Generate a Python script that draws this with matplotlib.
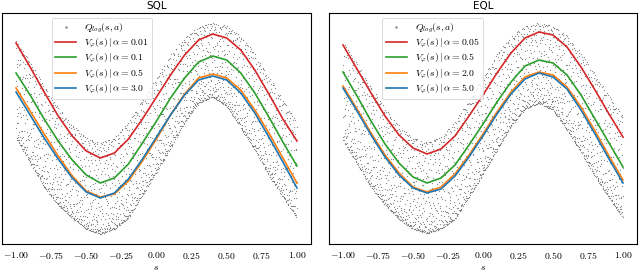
import matplotlib
matplotlib.use('Agg')
import matplotlib.pyplot as plt
from matplotlib.ticker import FuncFormatter
import numpy as np

plt.rcParams['mathtext.fontset'] = 'cm'

# state grid the value curves were read at
s = [-1.0, -0.9, -0.8, -0.7, -0.6, -0.5, -0.4, -0.3, -0.2, -0.1, 0.0,
     0.1, 0.2, 0.3, 0.4, 0.5, 0.6, 0.7, 0.8, 0.9, 1.0]

# SQL panel
sql_alphas = ['0.01', '0.1', '0.5', '3.0']
sql_red = [201, 177, 152, 128, 108, 93, 86, 91, 105, 125, 147, 169, 189, 204, 210, 206, 194, 174, 150, 125, 103]
sql_green = [171, 149, 125, 103, 84, 69, 61, 66, 80, 101, 123, 146, 166, 182, 188, 184, 171, 151, 127, 102, 78]
sql_orange = [156, 133, 110, 88, 68, 53, 47, 50, 63, 83, 105, 129, 150, 166, 170, 166, 154, 134, 111, 86, 61]
sql_blue = [152, 129, 106, 85, 66, 52, 46, 51, 65, 85, 107, 129, 149, 164, 168, 164, 151, 131, 107, 82, 56]
sql_q_top = [204, 182, 158, 136, 119, 106, 101, 106, 122, 144, 166, 189, 206, 217, 221, 218, 208, 190, 167, 144, 122]
sql_q_bot = [106, 81, 57, 39, 26, 15, 10, 15, 26, 49, 72, 96, 122, 141, 147, 138, 116, 94, 69, 47, 26]

# EQL panel
eql_alphas = ['0.05', '0.5', '2.0', '5.0']
eql_red = [199, 175, 151, 128, 109, 96, 90, 95, 108, 128, 149, 171, 191, 206, 212, 209, 197, 177, 154, 130, 107]
eql_green = [172, 148, 123, 100, 81, 67, 61, 66, 79, 99, 120, 142, 162, 178, 184, 181, 169, 149, 125, 101, 77]
eql_orange = [158, 135, 111, 89, 71, 57, 52, 57, 70, 89, 110, 132, 152, 167, 172, 169, 157, 137, 113, 88, 64]
eql_blue = [156, 133, 109, 87, 69, 56, 51, 55, 68, 87, 108, 130, 150, 165, 171, 167, 155, 134, 110, 85, 61]
eql_q_top = [202, 180, 157, 135, 118, 106, 102, 107, 122, 144, 167, 190, 207, 218, 221, 218, 208, 191, 170, 148, 127]
eql_q_bot = [104, 80, 57, 39, 25, 15, 11, 15, 25, 47, 70, 94, 118, 135, 141, 134, 114, 92, 68, 46, 26]

colors = ['tab:red', 'tab:green', 'tab:orange', 'tab:blue']
n_q = 2200


def halton(idx, base):
    # radical inverse, deterministic
    out = np.zeros(len(idx))
    f = 1.0
    i = idx.astype(float).copy()
    while np.any(i > 0):
        f /= base
        out += f * (i % base)
        i = np.floor(i / base)
    return out


def q_cloud(top, bot, offset):
    # low-discrepancy fill of the band between the read envelopes
    k = np.arange(1, n_q + 1) + offset
    u1 = halton(k, 2)
    u2 = halton(k, 3)
    xs = -1 + 2 * u1
    lo = np.interp(xs, s, bot)
    hi = np.interp(xs, s, top)
    f = (1 - np.cos(np.pi * u2 ** 1.35)) / 2
    return xs, lo + (hi - lo) * f


fig = plt.figure(figsize=(6.4, 2.72), dpi=100)
ax1 = fig.add_axes([2 / 640, 28 / 272, 309 / 640, 231 / 272])
ax2 = fig.add_axes([329 / 640, 28 / 272, 308 / 640, 231 / 272])

panels = [
    (ax1, 'SQL', sql_alphas, [sql_red, sql_green, sql_orange, sql_blue], sql_q_top, sql_q_bot, 0.145, 17),
    (ax2, 'EQL', eql_alphas, [eql_red, eql_green, eql_orange, eql_blue], eql_q_top, eql_q_bot, 0.157, 3001),
]

for ax, title, alphas, curves, top, bot, lx, off in panels:
    qx, qy = q_cloud(top, bot, off)
    ax.scatter(qx, qy, s=0.8, c='0.45', alpha=0.85, linewidths=0, label=r'$Q_{log}(s,a)$')
    for a, v, c in zip(alphas, curves, colors):
        ax.plot(s, v, color=c, lw=1.2, label=r'$V_\varphi(s)\mid\alpha=' + a + '$')
    ax.set_xlim(-1.1, 1.1)
    ax.set_ylim(0, 231)
    ax.set_yticks([])
    ax.set_xticks([-1, -0.75, -0.5, -0.25, 0, 0.25, 0.5, 0.75, 1])
    ax.xaxis.set_major_formatter(FuncFormatter(lambda v, p: '$%.2f$' % v))
    ax.tick_params(axis='x', labelsize=7, length=0, pad=4)
    ax.set_xlabel('$s$', fontsize=7, labelpad=1)
    ax.set_title(title, fontsize=7.5, pad=3)
    leg = ax.legend(loc='upper left', bbox_to_anchor=(lx, 1), fontsize=7,
                    markerscale=2, handlelength=2.2, labelspacing=0.22,
                    borderpad=0.35)
    leg.get_frame().set_linewidth(0.6)

fig.savefig('out.png', dpi=100)
